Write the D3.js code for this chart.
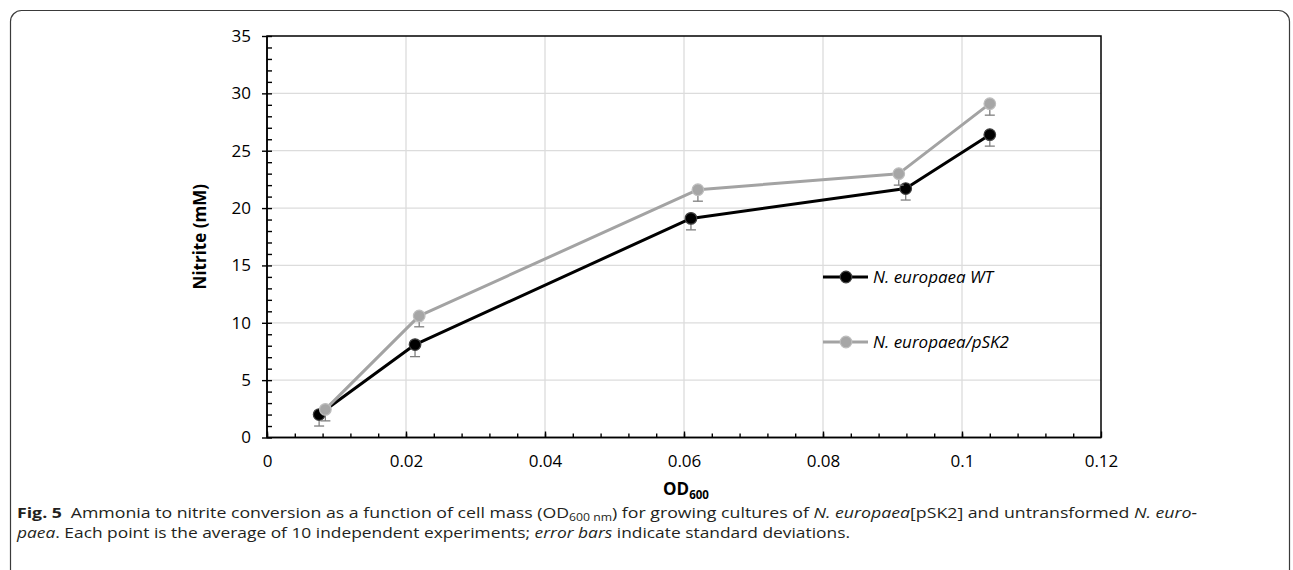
<!DOCTYPE html>
<html>
<head>
<meta charset="utf-8">
<script src="https://cdn.jsdelivr.net/npm/d3@7"></script>
<style>
  body { margin: 0; background: #fff; }
  svg { display: block; font-family: "Open Sans", sans-serif; }
</style>
</head>
<body>
<svg id="svg" width="1293" height="570"></svg>
<script>
// values
var seriesNames = ['N. europaea WT', 'N. europaea/pSK2'];
var odWT = [0.0075, 0.0213, 0.0610, 0.0919, 0.1040];
var nitriteWT = [2.0, 8.1, 19.1, 21.7, 26.4];
var errWT = [1.0, 1.05, 1.0, 1.0, 1.0];
var odPSK = [0.0084, 0.0219, 0.0620, 0.0909, 0.1040];
var nitritePSK = [2.45, 10.6, 21.6, 23.0, 29.1];
var errPSK = [1.0, 0.95, 1.0, 1.0, 1.0];
var xTicks = [0, 0.02, 0.04, 0.06, 0.08, 0.1, 0.12];
var yTicks = [0, 5, 10, 15, 20, 25, 30, 35];

var CHART = (function() {
  var chart = {};
  var svg = d3.select('svg');

  var plot = { left: 267, top: 36, right: 1101, bottom: 437.5 };

  var x = d3.scaleLinear().domain([0, 0.12]).range([plot.left, plot.right]);
  var y = d3.scaleLinear().domain([0, 35]).range([plot.bottom, plot.top]);

  var styles = [
    { line: '#000000', fill: '#000000', rim: '#3f3f3f' },
    { line: '#a3a3a3', fill: '#a6a6a6', rim: '#bdbdbd' }
  ];

  chart.frame = function() {
    svg.append('rect')
      .attr('x', 10.5).attr('y', 10.5)
      .attr('width', 1279).attr('height', 640)
      .attr('rx', 11)
      .attr('fill', 'none')
      .attr('stroke', '#3a3a3a')
      .attr('stroke-width', 1.2);
  };

  chart.grid = function() {
    var g = svg.append('g');
    g.selectAll('.gx').data(xTicks.slice(1, -1)).enter().append('line')
      .attr('x1', function(d) { return x(d); })
      .attr('x2', function(d) { return x(d); })
      .attr('y1', plot.top).attr('y2', plot.bottom)
      .attr('stroke', '#dcdcdc').attr('stroke-width', 1.3);
    g.selectAll('.gy').data(yTicks.slice(1, -1)).enter().append('line')
      .attr('y1', function(d) { return y(d); })
      .attr('y2', function(d) { return y(d); })
      .attr('x1', plot.left).attr('x2', plot.right)
      .attr('stroke', '#dcdcdc').attr('stroke-width', 1.3);

    // box round the plot area
    svg.append('rect')
      .attr('x', plot.left).attr('y', plot.top)
      .attr('width', plot.right - plot.left)
      .attr('height', plot.bottom - plot.top)
      .attr('fill', 'none')
      .attr('stroke', '#000').attr('stroke-width', 1.5);
  };

  chart.axes = function() {
    // x axis: major ticks point up, minor ticks every 0.004
    var xMinor = d3.range(0, 30).map(function(i) { return i * 0.004; });
    var gx = svg.append('g').attr('transform', 'translate(0,' + plot.bottom + ')');
    gx.call(d3.axisBottom(x).tickValues(xMinor).tickSize(-4).tickFormat(''));
    gx.call(function(s) { s.select('.domain').remove(); });
    var gx2 = svg.append('g').attr('transform', 'translate(0,' + plot.bottom + ')');
    gx2.call(d3.axisBottom(x).tickValues(xTicks).tickSize(-6).tickPadding(17)
      .tickFormat(function(d) { return d === 0 ? '0' : d3.format('')(+d.toFixed(2)); }));
    gx2.select('.domain').attr('stroke-width', 1.5).attr('d', 'M' + plot.left + ',0H' + plot.right);

    // y axis: major ticks cross, minor ticks every 1 inside
    var yMinor = d3.range(0, 36);
    var gy = svg.append('g').attr('transform', 'translate(' + plot.left + ',0)');
    gy.call(d3.axisLeft(y).tickValues(yMinor).tickSize(-5).tickFormat(''));
    gy.call(function(s) { s.select('.domain').remove(); });
    var gy2 = svg.append('g').attr('transform', 'translate(' + plot.left + ',0)');
    gy2.call(d3.axisLeft(y).tickValues(yTicks).tickSize(5).tickPadding(11));
    gy2.select('.domain').attr('stroke-width', 1.5).attr('d', 'M0,' + plot.bottom + 'V' + plot.top);

    svg.selectAll('.tick line').attr('stroke', '#000').attr('stroke-width', 1.4);
    svg.selectAll('.tick text')
      .attr('font-family', '"Open Sans", sans-serif')
      .attr('font-size', 17)
      .attr('fill', '#000');

    // titles
    svg.append('text')
      .attr('transform', 'translate(206,' + ((plot.top + plot.bottom) / 2) + ') rotate(-90)')
      .attr('text-anchor', 'middle')
      .attr('font-size', 17).attr('font-weight', 'bold')
      .text('Nitrite (mM)');

    var xt = svg.append('text')
      .attr('x', (plot.left + plot.right) / 2 + 2).attr('y', 495)
      .attr('text-anchor', 'middle')
      .attr('font-size', 17).attr('font-weight', 'bold');
    xt.append('tspan').text('OD');
    xt.append('tspan').attr('font-size', 11.5).attr('dy', 4).text('600');
  };

  chart.series = function(i, xs, ys, errs) {
    var st = styles[i];
    var pts = xs.map(function(d, k) { return { x: d, y: ys[k], e: errs[k] }; });
    var g = svg.append('g');

    g.append('path')
      .attr('d', d3.line().x(function(d) { return x(d.x); }).y(function(d) { return y(d.y); })(pts))
      .attr('fill', 'none')
      .attr('stroke', st.line)
      .attr('stroke-width', 3)
      .attr('stroke-linejoin', 'round');

    // minus-side error bars only
    var eb = g.selectAll('.err').data(pts).enter().append('g')
      .attr('stroke', '#7f7f7f').attr('stroke-width', 1.3);
    eb.append('line')
      .attr('x1', function(d) { return x(d.x); })
      .attr('x2', function(d) { return x(d.x); })
      .attr('y1', function(d) { return y(d.y); })
      .attr('y2', function(d) { return y(d.y - d.e); });
    eb.append('line')
      .attr('x1', function(d) { return x(d.x) - 5; })
      .attr('x2', function(d) { return x(d.x) + 5; })
      .attr('y1', function(d) { return y(d.y - d.e); })
      .attr('y2', function(d) { return y(d.y - d.e); });

    g.selectAll('circle').data(pts).enter().append('circle')
      .attr('cx', function(d) { return x(d.x); })
      .attr('cy', function(d) { return y(d.y); })
      .attr('r', 5.8)
      .attr('fill', st.fill)
      .attr('stroke', st.rim)
      .attr('stroke-width', 1.2);
  };

  chart.legend = function() {
    var rows = [277, 342];
    seriesNames.forEach(function(name, i) {
      var st = styles[i];
      var g = svg.append('g').attr('transform', 'translate(823,' + rows[i] + ')');
      g.append('line').attr('x1', 0).attr('x2', 45).attr('y1', 0).attr('y2', 0)
        .attr('stroke', st.line).attr('stroke-width', 3);
      g.append('circle').attr('cx', 23).attr('cy', 0).attr('r', 5.8)
        .attr('fill', st.fill).attr('stroke', st.rim).attr('stroke-width', 1.2);
      g.append('text').attr('x', 50).attr('y', 0).attr('dy', '0.35em')
        .attr('font-size', 17).attr('font-style', 'italic')
        .text(name);
    });
  };

  chart.caption = function() {
    var capFont = '"Open Sans", sans-serif';
    var l1 = svg.append('text').attr('x', 17).attr('y', 518)
      .attr('font-family', capFont).attr('font-size', 14.5).attr('fill', '#231f20');
    l1.append('tspan').attr('font-weight', 'bold').text('Fig. 5');
    l1.append('tspan').text('\u2002Ammonia to nitrite conversion as a function of cell mass (OD');
    l1.append('tspan').attr('font-size', 10).attr('dy', 3).text('600 nm');
    l1.append('tspan').attr('dy', -3).text(') for growing cultures of ');
    l1.append('tspan').attr('font-style', 'italic').text('N. europaea');
    l1.append('tspan').text('[pSK2] and untransformed ');
    l1.append('tspan').attr('font-style', 'italic').text('N. euro-');

    var l2 = svg.append('text').attr('x', 17).attr('y', 538)
      .attr('font-family', capFont).attr('font-size', 14.5).attr('fill', '#231f20');
    l2.append('tspan').attr('font-style', 'italic').text('paea');
    l2.append('tspan').text('. Each point is the average of 10 independent experiments; ');
    l2.append('tspan').attr('font-style', 'italic').text('error bars');
    l2.append('tspan').text(' indicate standard deviations.');

    l1.attr('textLength', 1180).attr('lengthAdjust', 'spacingAndGlyphs');
    l2.attr('textLength', 833).attr('lengthAdjust', 'spacingAndGlyphs');
  };

  chart.init = function() {
    chart.frame();
    chart.grid();
    chart.axes();
    chart.series(0, odWT, nitriteWT, errWT);
    chart.series(1, odPSK, nitritePSK, errPSK);
    chart.legend();
    chart.caption();
  };

  return chart;
})();

CHART.init();
</script>
</body>
</html>
